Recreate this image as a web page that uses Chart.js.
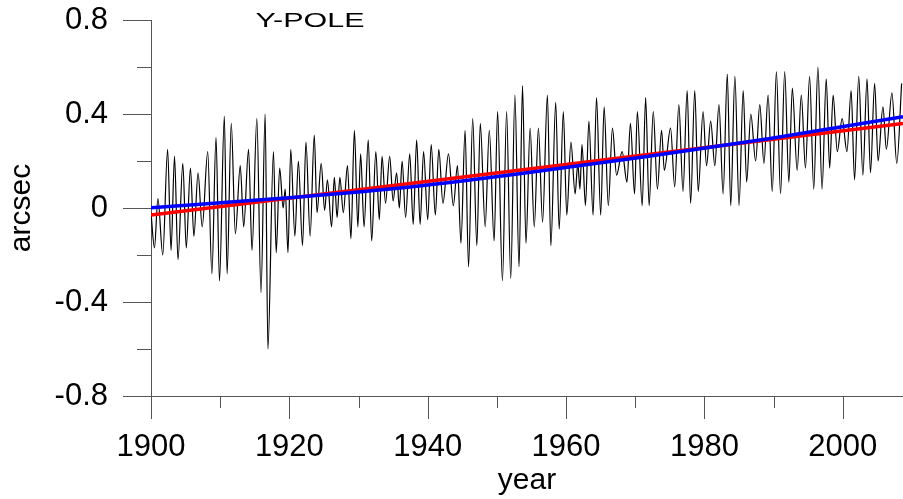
<!DOCTYPE html>
<html>
<head>
<meta charset="utf-8">
<script src="https://cdn.jsdelivr.net/npm/chart.js@4.4.1/dist/chart.umd.min.js"></script>
<style>
  body { margin: 0; background: #fff; }
  canvas { display: block; }
</style>
</head>
<body>
<canvas id="pole" width="903" height="499"></canvas>
<script>
// Y pole position (arcsec), peaks and troughs
const years = [
  1900.0, 1900.5, 1901.0, 1901.7, 1902.4, 1902.9, 1903.4, 1903.9, 1904.6, 1905.1,
  1905.7, 1906.2, 1906.8, 1907.4, 1908.2, 1908.8, 1909.4, 1909.9, 1910.6, 1911.0,
  1911.6, 1912.2, 1912.9, 1913.4, 1914.1, 1914.6, 1915.3, 1915.9, 1916.5, 1916.9,
  1917.7, 1918.1, 1918.6, 1919.1, 1919.4, 1919.8, 1920.2, 1920.8, 1921.3, 1921.9,
  1922.4, 1923.0, 1923.6, 1924.0, 1924.6, 1925.1, 1925.5, 1926.1, 1926.5, 1926.9,
  1927.3, 1927.8, 1928.4, 1928.9, 1929.4, 1929.9, 1930.3, 1930.8, 1931.4, 1931.9,
  1932.5, 1933.0, 1933.4, 1933.9, 1934.5, 1935.0, 1935.5, 1935.9, 1936.3, 1936.8,
  1937.4, 1937.9, 1938.4, 1938.9, 1939.4, 1940.0, 1940.5, 1941.1, 1941.6, 1942.2,
  1943.0, 1943.7, 1944.3, 1944.8, 1945.4, 1945.9, 1946.5, 1947.1, 1947.6, 1948.3,
  1948.9, 1949.6, 1950.1, 1950.8, 1951.4, 1952.0, 1952.6, 1953.2, 1953.7, 1954.2,
  1954.8, 1955.4, 1956.0, 1956.6, 1957.3, 1957.8, 1958.5, 1959.0, 1959.6, 1960.1,
  1960.7, 1961.3, 1961.7, 1962.0, 1962.3, 1962.8, 1963.3, 1963.9, 1964.4, 1965.0,
  1965.5, 1966.1, 1966.7, 1967.3, 1968.1, 1968.8, 1969.3, 1969.9, 1970.3, 1971.0,
  1971.5, 1972.0, 1972.6, 1973.2, 1973.8, 1974.2, 1975.1, 1975.7, 1976.3, 1976.9,
  1977.5, 1978.0, 1978.6, 1979.1, 1979.8, 1980.3, 1980.9, 1981.5, 1982.1, 1982.7,
  1983.3, 1983.8, 1984.4, 1985.0, 1985.6, 1986.1, 1986.7, 1987.4, 1988.0, 1988.6,
  1989.2, 1989.8, 1990.4, 1991.0, 1991.6, 1992.2, 1992.7, 1993.4, 1994.0, 1994.6,
  1995.2, 1995.8, 1996.4, 1997.0, 1997.6, 1998.1, 1998.6, 1999.2, 1999.9, 2000.6,
  2001.2, 2001.7, 2002.3, 2002.9, 2003.5, 2004.0, 2004.6, 2005.1, 2005.8, 2006.3,
  2007.1, 2007.8, 2008.5
];
const ypole = [
  -0.02, -0.17, 0.04, -0.20, 0.25, -0.18, 0.22, -0.22, 0.19, -0.17,
  0.17, -0.12, 0.15, -0.08, 0.24, -0.28, 0.30, -0.31, 0.39, -0.28,
  0.36, -0.11, 0.18, -0.08, 0.25, -0.18, 0.38, -0.36, 0.40, -0.60,
  0.24, -0.19, 0.17, 0.00, 0.08, -0.19, 0.25, -0.12, 0.20, -0.16,
  0.28, -0.12, 0.31, -0.02, 0.19, -0.01, 0.12, -0.08, 0.13, -0.04,
  0.13, -0.02, 0.18, -0.13, 0.33, -0.08, 0.23, -0.08, 0.29, -0.14,
  0.24, -0.05, 0.22, 0.02, 0.22, 0.03, 0.15, 0.00, 0.20, -0.04,
  0.23, -0.07, 0.29, -0.07, 0.24, -0.05, 0.27, -0.03, 0.25, 0.02,
  0.23, 0.01, 0.18, -0.15, 0.33, -0.25, 0.38, -0.16, 0.36, -0.08,
  0.33, -0.14, 0.41, -0.31, 0.41, -0.30, 0.48, -0.25, 0.52, -0.15,
  0.34, -0.08, 0.34, -0.06, 0.48, -0.16, 0.45, -0.09, 0.41, -0.03,
  0.28, 0.06, 0.19, 0.08, 0.27, 0.01, 0.37, -0.03, 0.47, -0.03,
  0.43, 0.01, 0.34, 0.14, 0.24, 0.11, 0.36, 0.06, 0.41, 0.01,
  0.47, 0.01, 0.41, 0.08, 0.33, 0.16, 0.34, 0.09, 0.44, 0.07,
  0.50, 0.02, 0.50, 0.07, 0.41, 0.18, 0.37, 0.18, 0.44, 0.06,
  0.57, 0.01, 0.56, 0.01, 0.50, 0.11, 0.40, 0.20, 0.44, 0.19,
  0.48, 0.07, 0.58, 0.06, 0.58, 0.11, 0.51, 0.16, 0.48, 0.17,
  0.56, 0.08, 0.60, 0.08, 0.55, 0.17, 0.48, 0.24, 0.38, 0.24,
  0.50, 0.12, 0.56, 0.14, 0.55, 0.15, 0.53, 0.20, 0.43, 0.25,
  0.49, 0.19, 0.53
];

// trend curves
const blueYears = [1900, 1918.4, 1936.0, 1953.8, 1971.7, 1989.5, 2008.7];
const blueFit = [0.001, 0.04, 0.085, 0.148, 0.219, 0.296, 0.388];
const redYears = [1900, 2008.7];
const redFit = [-0.03, 0.36];

// axis ticks
const xMajor = [1900, 1920, 1940, 1960, 1980, 2000];
const xMinor = [1910, 1930, 1950, 1970, 1990];
const yMajor = [-0.8, -0.4, 0, 0.4, 0.8];
const yMinor = [-0.6, -0.2, 0.2, 0.6];

const pts = (xs, ys) => xs.map((x, i) => ({x: x, y: ys[i]}));

const noPad = s => { s.paddingTop = 0; s.paddingBottom = 0; s.paddingLeft = 0; s.paddingRight = 0; };

const axesPlugin = {
  id: 'axes',
  beforeDatasetsDraw(chart) {
    const ctx = chart.ctx;
    const a = chart.chartArea;
    const xs = chart.scales.x, ys = chart.scales.y;
    ctx.save();
    ctx.strokeStyle = '#555';
    ctx.lineWidth = 1;
    ctx.beginPath();
    // left axis line
    ctx.moveTo(a.left + 0.5, a.top);
    ctx.lineTo(a.left + 0.5, a.bottom + 23);
    // bottom axis line
    ctx.moveTo(a.left - 28, a.bottom + 0.5);
    ctx.lineTo(a.right, a.bottom + 0.5);
    yMajor.forEach(v => {
      const py = Math.round(ys.getPixelForValue(v)) + 0.5;
      ctx.moveTo(a.left - 28, py); ctx.lineTo(a.left, py);
    });
    yMinor.forEach(v => {
      const py = Math.round(ys.getPixelForValue(v)) + 0.5;
      ctx.moveTo(a.left - 14, py); ctx.lineTo(a.left, py);
    });
    xMajor.forEach(v => {
      const px = Math.round(xs.getPixelForValue(v)) + 0.5;
      ctx.moveTo(px, a.bottom); ctx.lineTo(px, a.bottom + 23);
    });
    xMinor.forEach(v => {
      const px = Math.round(xs.getPixelForValue(v)) + 0.5;
      ctx.moveTo(px, a.bottom); ctx.lineTo(px, a.bottom + 12);
    });
    ctx.stroke();
    ctx.restore();
  },
  afterDraw(chart) {
    const ctx = chart.ctx;
    ctx.save();
    ctx.fillStyle = '#000';
    ctx.font = '21px Arial, "Liberation Sans", sans-serif';
    ctx.textAlign = 'center';
    ctx.textBaseline = 'alphabetic';
    ctx.translate(310, 27);
    ctx.scale(1.45, 1);
    ctx.fillText('Y-POLE', 0, 0);
    ctx.restore();
  }
};

const poleChart = new Chart(document.getElementById('pole'), {
  type: 'line',
  data: {
    datasets: [
      {
        label: 'blue fit',
        data: pts(blueYears, blueFit),
        borderColor: '#0000ff',
        borderWidth: 3.5,
        pointRadius: 0,
        cubicInterpolationMode: 'monotone',
        order: 1
      },
      {
        label: 'red fit',
        data: pts(redYears, redFit),
        borderColor: '#ff0000',
        borderWidth: 3.5,
        pointRadius: 0,
        order: 2
      },
      {
        label: 'Y-pole',
        data: pts(years, ypole),
        borderColor: '#000',
        borderWidth: 1.2,
        pointRadius: 0,
        cubicInterpolationMode: 'monotone',
        order: 3
      }
    ]
  },
  options: {
    responsive: false,
    animation: false,
    layout: { padding: { top: 20, right: 0, bottom: 0, left: 0 } },
    plugins: {
      legend: { display: false },
      tooltip: { enabled: false },
      title: { display: false }
    },
    scales: {
      x: {
        type: 'linear',
        min: 1900,
        max: 2008.7,
        grid: { display: false, drawTicks: false },
        border: { display: false },
        afterFit: s => { s.height = 103; noPad(s); },
        afterBuildTicks: s => { s.ticks = xMajor.map(v => ({value: v})); },
        ticks: {
          color: '#000',
          padding: 33,
          maxRotation: 0,
          font: { family: 'Arial, "Liberation Sans", sans-serif', size: 31 },
          callback: v => String(v)
        },
        title: {
          display: true,
          text: 'year',
          color: '#000',
          padding: { top: 0, bottom: 0 },
          font: { family: 'Arial, "Liberation Sans", sans-serif', size: 30 }
        }
      },
      y: {
        min: -0.8,
        max: 0.8,
        grid: { display: false, drawTicks: false },
        border: { display: false },
        afterFit: s => { s.width = 151; noPad(s); },
        afterBuildTicks: s => { s.ticks = yMajor.map(v => ({value: v})); },
        ticks: {
          color: '#000',
          padding: 43,
          font: { family: 'Arial, "Liberation Sans", sans-serif', size: 31 },
          callback: v => String(Math.round(v * 10) / 10)
        },
        title: {
          display: true,
          text: 'arcsec',
          color: '#000',
          padding: { top: 4, bottom: 0 },
          font: { family: 'Arial, "Liberation Sans", sans-serif', size: 30 }
        }
      }
    }
  },
  plugins: [axesPlugin]
});
</script>
</body>
</html>
